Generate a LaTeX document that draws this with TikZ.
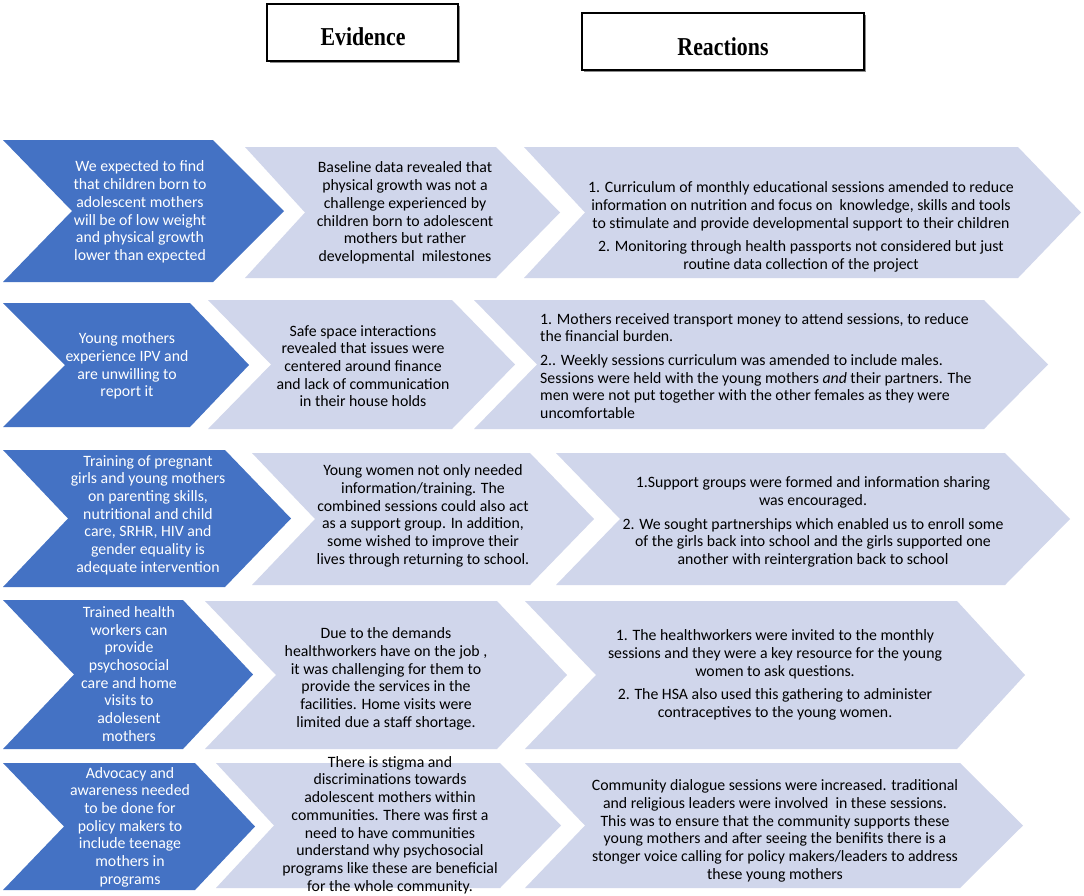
\documentclass[tikz,border=0pt]{standalone}
\usepackage{fontspec}
\setmainfont{Carlito}
\newfontfamily\hdrfont{Liberation Serif}
\definecolor{dkblue}{HTML}{4472C4}
\definecolor{ltblue}{HTML}{D0D6EB}
\newcommand\chv[7]{\fill[#1] (#2,#6) -- (#4,#6) -- (#5,{(#6+#7)/2}) -- (#4,#7) -- (#2,#7) -- (#3,{(#6+#7)/2}) -- cycle;}
\tikzset{
  dark/.style={fill=dkblue},
  light/.style={fill=ltblue},
  body/.style={inner sep=0pt, align=center, font=\fontsize{15.8}{17.7}\selectfont},
  dtext/.style={body, text=white},
  ltext/.style={body, text=black},
  hdrbox/.style={draw=black, line width=1.6pt, fill=white},
  hdrtext/.style={inner sep=0pt, font=\hdrfont\fontsize{23}{26}\selectfont\bfseries},
}
\begin{document}
\begin{tikzpicture}[x=1pt,y=-1pt]
\useasboundingbox[fill=white] (0,0) rectangle (1084,895);
% headers
\fill[black!45] (269.5,5.5) rectangle (459.5,62.5);
\draw[hdrbox] (267,4) rectangle (458,61);
\node[hdrtext] (evid) at (363,37) {\scalebox{0.95}[1.12]{Evidence}};
\fill[black!45] (583.5,14.5) rectangle (865.5,71.5);
\draw[hdrbox] (582,13) rectangle (864,70);
\node[hdrtext] (react) at (723,47) {\scalebox{0.95}[1.12]{Reactions}};
% row 1
\chv{dark}{3}{72}{213}{284}{140}{282}
\chv{light}{245}{305}{496}{560}{147}{278}
\chv{light}{524}{585}{1018}{1081}{147}{278}
\node[dtext] (d1) at (140,212) {We expected to find\\that children born to\\adolescent mothers\\will be of low weight\\and physical growth\\lower than expected};
\node[ltext] (e1) at (405,213) {Baseline data revealed that\\physical growth was not a\\challenge experienced by\\children born to adolescent\\mothers but rather\\developmental\ \ milestones};
\node[ltext] (r1) at (801,227) {1. Curriculum of monthly educational sessions amended to reduce\\information on nutrition and focus on\ \ knowledge, skills and tools\\to stimulate and provide developmental support to their children\\[6pt]2. Monitoring through health passports not considered but just\\routine data collection of the project};
% row 2
\chv{dark}{3}{65}{190}{249}{303}{427}
\chv{light}{208}{271}{452}{515}{300}{429}
\chv{light}{474}{537}{984}{1048}{300}{429}
\node[dtext] (d2) at (127,366) {Young mothers\\experience IPV and\\are unwilling to\\report it};
\node[ltext] (e2) at (363,366) {Safe space interactions\\revealed that issues were\\centered around finance\\and lack of communication\\in their house holds};
\node[ltext, align=left, anchor=west] (r2) at (540,366) {1. Mothers received transport money to attend sessions, to reduce\\the financial burden.\\[6pt]2.. Weekly sessions curriculum was amended to include males.\\Sessions were held with the young mothers \textit{and} their partners. The\\men were not put together with the other females as they were\\uncomfortable};
% row 3
\chv{dark}{3}{68}{225}{291}{450}{587}
\chv{light}{252}{315}{530}{594}{453}{585}
\chv{light}{556}{620}{1005}{1070}{453}{585}
\node[dtext] (d3) at (148,515) {Training of pregnant\\girls and young mothers\\on parenting skills,\\nutritional and child\\care, SRHR, HIV and\\gender equality is\\adequate intervention};
\node[ltext] (e3) at (423,516) {Young women not only needed\\information/training. The\\combined sessions could also act\\as a support group. In addition,\\some wished to improve their\\lives through returning to school.};
\node[ltext] (r3) at (813,522) {1.Support groups were formed and information sharing\\was encouraged.\\[6pt]2. We sought partnerships which enabled us to enroll some\\of the girls back into school and the girls supported one\\another with reintergration back to school};
% row 4
\chv{dark}{3}{74}{183}{253}{600}{749}
\chv{light}{205}{276}{497}{567}{601}{749}
\chv{light}{525}{596}{957}{1025}{601}{749}
\node[dtext] (d4) at (129,674) {Trained health\\workers can\\provide\\psychosocial\\care and home\\visits to\\adolesent\\mothers};
\node[ltext] (e4) at (386,679) {Due to the demands\\healthworkers have on the job ,\\it was challenging for them to\\provide the services in the\\facilities. Home visits were\\limited due a staff shortage.};
\node[ltext] (r4) at (775,675) {1. The healthworkers were invited to the monthly\\sessions and they were a key resource for the young\\women to ask questions.\\[6pt]2. The HSA also used this gathering to administer\\contraceptives to the young women.};
% row 5
\chv{dark}{3}{64}{195}{255}{763}{890}
\chv{light}{216}{274}{500}{561}{763}{888}
\chv{light}{525}{585}{960}{1023}{763}{888}
\node[dtext] (d5) at (130,827) {Advocacy and\\awareness needed\\to be done for\\policy makers to\\include teenage\\mothers in\\programs};
\node[ltext] (e5) at (390,825) {There is stigma and\\discriminations towards\\adolescent mothers within\\communities. There was first a\\need to have communities\\understand why psychosocial\\programs like these are beneficial\\for the whole community.};
\node[ltext] (r5) at (775,831) {Community dialogue sessions were increased. traditional\\and religious leaders were involved\ \ in these sessions.\\This was to ensure that the community supports these\\young mothers and after seeing the benifits there is a\\stonger voice calling for policy makers/leaders to address\\these young mothers};
\end{tikzpicture}
\end{document}
